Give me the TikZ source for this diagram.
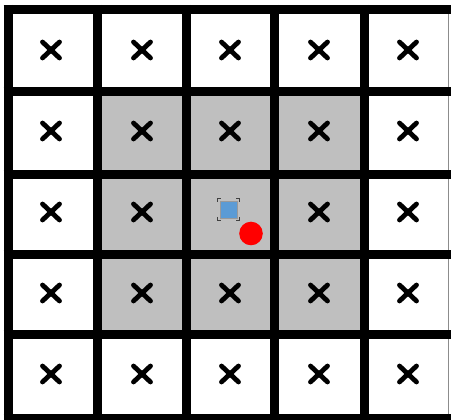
\documentclass[tikz,border=0pt]{standalone}
\begin{document}
\begin{tikzpicture}[x=1pt,y=-1pt,
  gridline/.style={line width=9pt,black},
  xmark/.style={line width=4.8pt,line cap=round,black},
  bracket/.style={line width=1.3pt,black!75}]
\useasboundingbox (0,0) rectangle (451,420);
\clip (0,0) rectangle (451,420);
\fill[white] (0,0) rectangle (451,420);
% gray inner block
\fill[black!25] (97,92) rectangle (364,335);
% thin right edge
\draw[black!45,line width=1pt] (448.5,9) -- (448.5,418);
% grid lines
\foreach \x in {8,97,186,274.5,364}
  \draw[gridline] (\x,5) -- (\x,423);
\foreach \y in {9.5,92,174.5,255,335,418.5}
  \draw[gridline] (3.5,\y) -- (451,\y);
% x marks
\foreach \cx in {51,142,230,319,408}
  \foreach \cy in {50,131,212,293,374}
    \draw[xmark] (\cx-8.5,\cy-8) -- (\cx+8.5,\cy+8) (\cx-8.5,\cy+8) -- (\cx+8.5,\cy-8);
% cover center x
\fill[black!25] (200,190) rectangle (262,250);
% blue square with corner brackets
\node[draw=black!40,line width=0.5pt,fill={rgb,255:red,91;green,155;blue,213},minimum size=17pt,inner sep=0pt] (sq) at (228.5,209.5) {};
\draw[bracket] (217.5,202) -- (217.5,198.5) -- (221,198.5);
\draw[bracket] (236,198.5) -- (239.5,198.5) -- (239.5,202);
\draw[bracket] (217.5,217) -- (217.5,220.5) -- (221,220.5);
\draw[bracket] (236,220.5) -- (239.5,220.5) -- (239.5,217);
% red dot
\fill[red] (251,233.5) circle (11.8);
\end{tikzpicture}
\end{document}
